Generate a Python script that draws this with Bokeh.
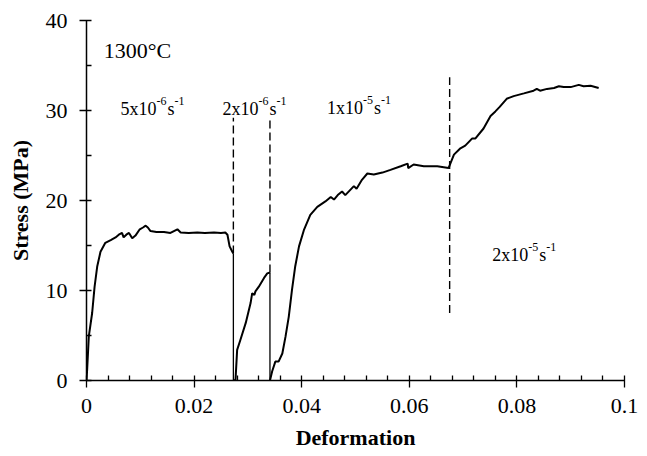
from bokeh.plotting import figure
from bokeh.models import Range1d, FixedTicker, ColumnDataSource
from bokeh.embed import file_html
from bokeh.resources import INLINE
from bokeh.core.properties import value

# ---------------- data ----------------
x_ticks = [0, 0.02, 0.04, 0.06, 0.08, 0.1]
x_tick_labels = ["0", "0.02", "0.04", "0.06", "0.08", "0.1"]
x_minor = [0.004, 0.008, 0.012, 0.016, 0.024, 0.028, 0.032, 0.036, 0.044, 0.048,
           0.052, 0.056, 0.064, 0.068, 0.072, 0.076, 0.084, 0.088, 0.092, 0.096]
y_ticks = [0, 10, 20, 30, 40]
y_tick_labels = ["0", "10", "20", "30", "40"]
y_minor = [5, 15, 25, 35]

seg1_x = [0, 0.00012, 0.00043, 0.00105, 0.0015, 0.0020, 0.0026, 0.0035, 0.0045, 0.0054,
          0.0060, 0.0066, 0.0069, 0.0074, 0.0079, 0.0085, 0.0091, 0.0099, 0.0105, 0.0110,
          0.0114, 0.0119, 0.0130, 0.0144, 0.0156, 0.0169, 0.0175, 0.0190, 0.0206, 0.0220,
          0.0237, 0.0250, 0.0258, 0.0262, 0.0266, 0.0271, 0.0273]
seg1_y = [0, 1.2, 4.9, 7.5, 10.4, 12.7, 14.3, 15.3, 15.6, 15.9,
          16.2, 16.4, 15.9, 16.2, 16.4, 15.8, 16.1, 16.8, 17.0, 17.2,
          17.0, 16.6, 16.5, 16.5, 16.4, 16.8, 16.45, 16.4, 16.45, 16.4,
          16.45, 16.4, 16.45, 16.2, 14.9, 14.3, 14.1]

seg2_x = [0.0274, 0.0277, 0.0280, 0.0286, 0.0296, 0.0305, 0.0308, 0.0312, 0.0314,
          0.0320, 0.0325, 0.0330, 0.0336, 0.0341]
seg2_y = [0, 0.1, 3.4, 4.5, 6.4, 8.6, 9.7, 9.5, 9.9, 10.4, 10.9, 11.4, 11.9, 12.0]

seg3_x = [0.0341, 0.0345, 0.0351, 0.0357, 0.0364, 0.0370, 0.0376, 0.0382, 0.0388, 0.0395,
          0.0404, 0.0416, 0.0429, 0.0444, 0.0454, 0.0460, 0.0467, 0.0475, 0.0481, 0.0489,
          0.0497, 0.0502, 0.0512, 0.0522, 0.0534, 0.0550, 0.0565, 0.0584, 0.0597, 0.0598,
          0.0608, 0.0627, 0.0652, 0.0673, 0.0677, 0.0683, 0.0695, 0.0704, 0.0717, 0.0723,
          0.0738, 0.0751, 0.0760, 0.0768, 0.0781, 0.0794, 0.0813, 0.0831, 0.0837, 0.0843,
          0.0856, 0.0869, 0.0878, 0.0887, 0.0900, 0.0915, 0.0924, 0.0937, 0.0952]
seg3_y = [0, 1.0, 2.1, 2.1, 3.0, 4.9, 7.1, 10.1, 12.7, 14.9,
          16.7, 18.4, 19.3, 19.9, 20.4, 20.1, 20.6, 21.0, 20.6, 21.1,
          21.6, 21.3, 22.3, 23.0, 22.9, 23.1, 23.4, 23.8, 24.1, 23.6,
          24.0, 23.8, 23.8, 23.6, 24.2, 25.1, 25.8, 26.1, 26.9, 26.9,
          28.0, 29.4, 29.9, 30.4, 31.3, 31.6, 31.9, 32.2, 32.4, 32.2,
          32.4, 32.5, 32.7, 32.6, 32.6, 32.85, 32.7, 32.75, 32.5]

drop_x = [0.0273, 0.0341]
drop_top = [14.1, 12.0]

dash_x = [0.0273, 0.0341, 0.0675]
dash_top = [29.2, 29.2, 33.7]
dash_bottom = [14.1, 12.0, 7.5]

rate_base = ["5x10", "2x10", "1x10", "2x10"]
rate_exp = ["-6", "-6", "-5", "-5"]
rate_x = [0.0063, 0.0253, 0.0447, 0.0754]
rate_y = [30.2, 30.2, 30.3, 14.0]

temp_label = "1300\u00b0C"
temp_x = 0.0032
temp_y = 36.7

# ---------------- figure ----------------
SERIF = "Liberation Serif"

p = figure(width=642, height=454, output_backend="svg", toolbar_location=None,
           x_range=Range1d(0, 0.1), y_range=Range1d(0, 40),
           min_border_left=86, min_border_top=20, min_border_right=18, min_border_bottom=74)
p.outline_line_color = None
p.grid.visible = False
p.background_fill_color = "white"
p.border_fill_color = "white"

# axes
p.xaxis.ticker = FixedTicker(ticks=x_ticks, minor_ticks=x_minor)
p.yaxis.ticker = FixedTicker(ticks=y_ticks, minor_ticks=y_minor)
p.xaxis.major_label_overrides = dict(zip(x_ticks, x_tick_labels))
p.yaxis.major_label_overrides = dict(zip(y_ticks, y_tick_labels))
for ax in (p.xaxis[0], p.yaxis[0]):
    ax.axis_line_color = "black"
    ax.axis_line_width = 1.5
    ax.major_tick_line_color = "black"
    ax.minor_tick_line_color = "black"
    ax.major_tick_line_width = 1.3
    ax.minor_tick_line_width = 1.3
    ax.major_tick_in = 5
    ax.major_tick_out = 7
    ax.minor_tick_in = 5
    ax.minor_tick_out = 0
    ax.major_label_text_font = SERIF
    ax.major_label_text_font_size = "22px"
    ax.major_label_text_color = "black"
    ax.axis_label_text_font = SERIF
    ax.axis_label_text_font_size = "22px"
    ax.axis_label_text_font_style = "bold"
    ax.axis_label_text_color = "black"

p.xaxis.axis_label = "Deformation"
p.yaxis.axis_label = "Stress (MPa)"
p.xaxis.major_label_standoff = 11
p.xaxis.axis_label_standoff = 9
p.yaxis.major_label_standoff = 12
p.yaxis.axis_label_standoff = 10

# curve
for sx, sy in ((seg1_x, seg1_y), (seg2_x, seg2_y), (seg3_x, seg3_y)):
    p.line(sx, sy, line_color="black", line_width=2.0)

p.segment(x0=drop_x, y0=[0] * len(drop_x), x1=drop_x, y1=drop_top,
          line_color="black", line_width=1.3)

p.segment(x0=dash_x, y0=dash_bottom, x1=dash_x, y1=dash_top,
          line_color="black", line_width=1.4, line_dash="8 4")

# rate labels (base + superscript pieces)
pieces = dict(x=[], y=[], text=[], xo=[], yo=[], size=[])
for bx, by, b, e in zip(rate_x, rate_y, rate_base, rate_exp):
    for txt, xo, yo, sz in ((b, 0, 0, "18px"), (e, 36, -8, "12px"),
                            ("s", 47, 0, "18px"), ("-1", 54, -8, "12px")):
        pieces["x"].append(bx)
        pieces["y"].append(by)
        pieces["text"].append(txt)
        pieces["xo"].append(xo)
        pieces["yo"].append(yo)
        pieces["size"].append(sz)
src = ColumnDataSource(pieces)
p.text(x="x", y="y", text="text", x_offset="xo", y_offset="yo", text_font_size="size",
       source=src, text_font=value(SERIF), text_color="black", text_baseline="alphabetic")

p.text(x=[temp_x], y=[temp_y], text=[temp_label], text_font=value(SERIF),
       text_font_size="22px", text_color="black", text_baseline="alphabetic")

open("out.html", "w").write(file_html(p, INLINE))
